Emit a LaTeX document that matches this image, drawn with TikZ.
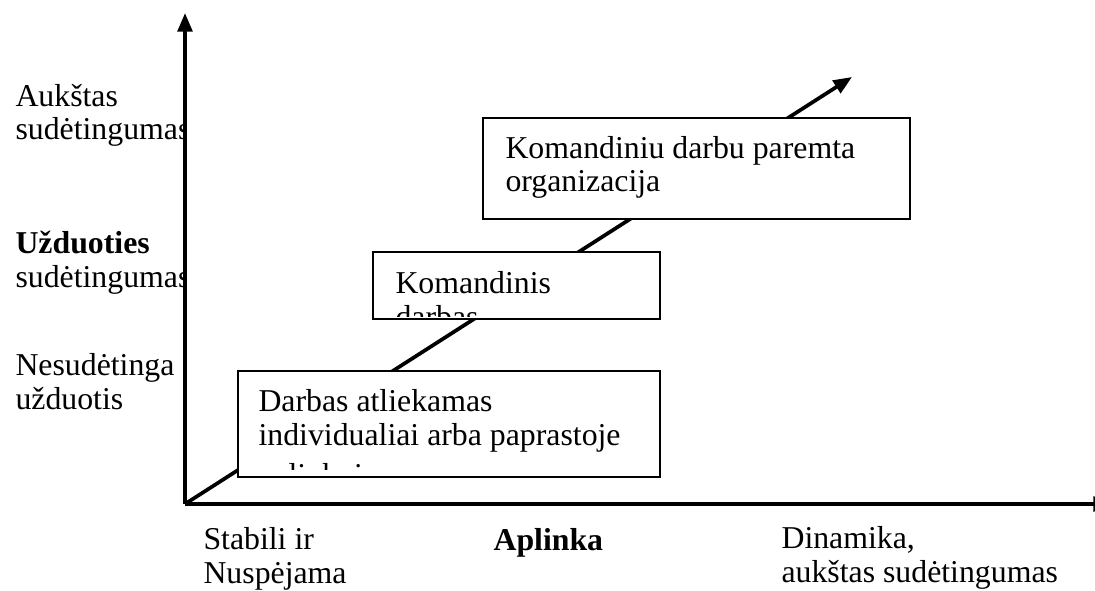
\documentclass[tikz,border=0pt]{standalone}
\usepackage{fontspec}
\setmainfont{Liberation Serif}
\usepackage{tikz}
\usetikzlibrary{calc, positioning, arrows, arrows.meta, fit}

\tikzset{
    axisline/.style={line width=1.4pt,-{Triangle[length=7pt,width=5.5pt]}},
    frame/.style={draw,line width=0.8pt,fill=white,inner sep=0pt},
    lbl/.style={anchor=base west,inner sep=0pt,align=left,font=\fontsize{12}{12.83}\selectfont}
}

\begin{document}
\begin{tikzpicture}[x=0.3774pt,y=-0.3774pt]
        \useasboundingbox (0,0) rectangle (1095,590);
        \coordinate (O) at (185,504);
        \coordinate (ytip) at (185,13);
        \coordinate (xtip) at (1112,504);
        \coordinate (diagtip) at (852,77);
        \draw[axisline] (O)--(ytip);
        \draw[axisline] (O)--(xtip);
        \draw[axisline] (O)--(diagtip);

        \begin{scope}
            \clip (0,0) rectangle (184,590);
            \node[lbl] (high) at (15,140) {Aukštas\\sudėtingumas};
            \node[lbl] (task) at (15,287) {\textbf{Užduoties}\\sudėtingumas};
            \node[lbl] (simple) at (15,409) {Nesudėtinga\\užduotis};
        \end{scope}

        \node[lbl] (stable) at (203,583) {Stabili ir\\Nuspėjama};
        \node[lbl] (env) at (493,550) {\textbf{Aplinka}};
        \node[lbl] (dynamic) at (781,582) {Dinamika,\\aukštas sudėtingumas};

        \node[frame,fit={(238,371) (660,477)}] (indiv) {};
        \begin{scope}
            \clip (238,371) rectangle (660,469);
            \node[lbl] (indivtext) at (258,485) {Darbas atliekamas\\individualiai arba paprastoje\\[1.9pt]aplinkoje};
        \end{scope}

        \node[frame,fit={(373,252) (660,319)}] (team) {};
        \begin{scope}
            \clip (373,252) rectangle (660,316);
            \node[lbl] (teamtext) at (395,327) {Komandinis\\darbas};
        \end{scope}

        \node[frame,fit={(483,118) (910,219)}] (org) {};
        \node[lbl] (orgtext) at (505,192) {Komandiniu darbu paremta\\organizacija};
    \end{tikzpicture}
\end{document}
